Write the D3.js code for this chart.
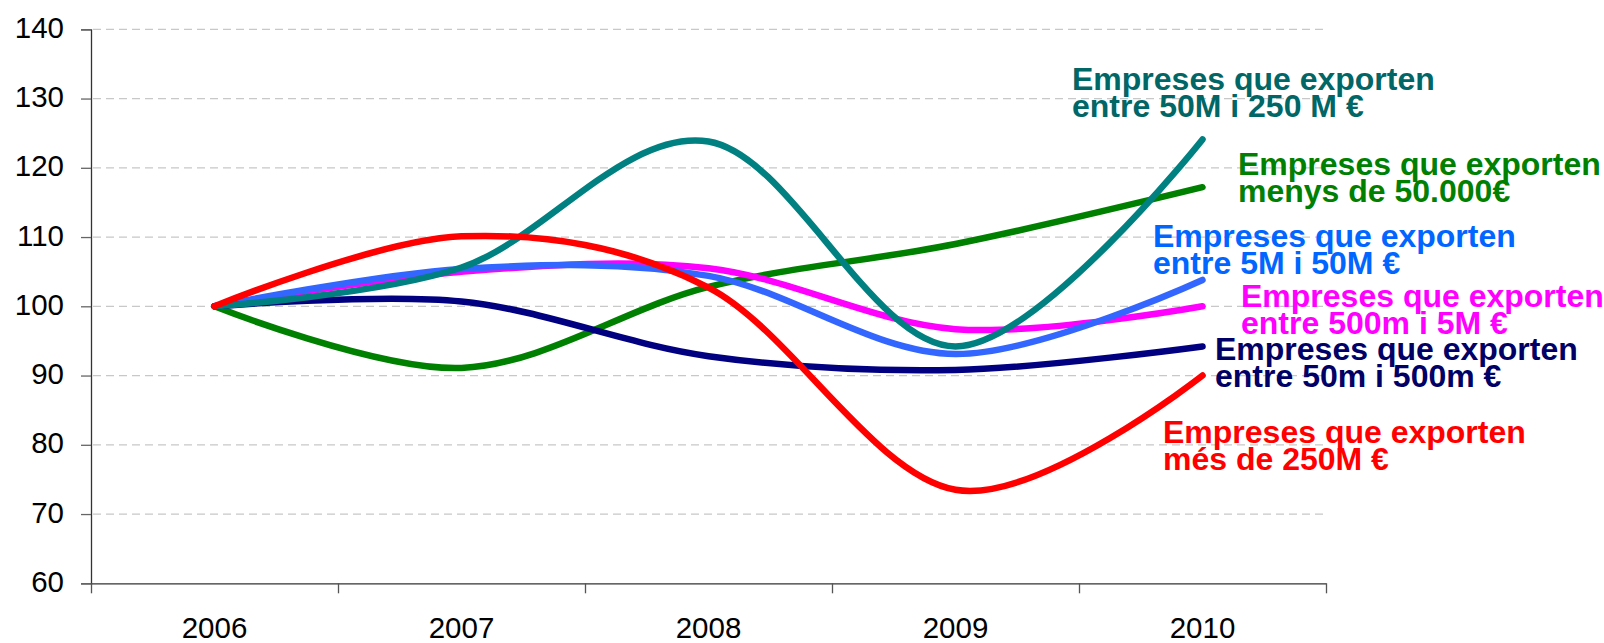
<!DOCTYPE html>
<html>
<head>
<meta charset="utf-8">
<script src="https://cdn.jsdelivr.net/npm/d3@7"></script>
<style>
  body { margin: 0; background: #fff; }
  svg text { font-family: "Liberation Sans", Arial, sans-serif; }
</style>
</head>
<body>
<svg id="chart" width="1604" height="643"></svg>
<script>
// data (index, 2006 = 100)
const years = ['2006', '2007', '2008', '2009', '2010'];
const yTicks = [60, 70, 80, 90, 100, 110, 120, 130, 140];

const menys50k = [100, 91.1, 102.8, 109.0, 117.2];
const entre500m5M = [100, 105.0, 105.5, 96.7, 100.0];
const entre5M50M = [100, 105.4, 104.4, 93.1, 103.8];
const entre50m500m = [100, 100.7, 92.8, 90.8, 94.2];
const entre50M250M = [100, 105.6, 123.8, 94.2, 124.1];
const mes250M = [100, 110.1, 102.7, 73.5, 90.0];

const labelsTeal = ['Empreses que exporten', 'entre 50M i 250 M €'];
const labelsGreen = ['Empreses que exporten', 'menys de 50.000€'];
const labelsBlue = ['Empreses que exporten', 'entre 5M i 50M €'];
const labelsMagenta = ['Empreses que exporten', 'entre 500m i 5M €'];
const labelsNavy = ['Empreses que exporten', 'entre 50m i 500m €'];
const labelsRed = ['Empreses que exporten', 'més de 250M €'];

// draw order: last one on top
const series = [
    { values: menys50k, line: '#008000', text: '#008000', label: labelsGreen, lx: 1238, ly: 175 },
    { values: entre500m5M, line: '#ff00ff', text: '#ff00ff', label: labelsMagenta, lx: 1241, ly: 307 },
    { values: entre5M50M, line: '#3366ff', text: '#0066ff', label: labelsBlue, lx: 1153, ly: 247 },
    { values: entre50m500m, line: '#000080', text: '#000066', label: labelsNavy, lx: 1215, ly: 360 },
    { values: entre50M250M, line: '#008080', text: '#006666', label: labelsTeal, lx: 1072, ly: 90 },
    { values: mes250M, line: '#ff0000', text: '#ff0000', label: labelsRed, lx: 1163, ly: 443 }
];

const plotLeft = 91, plotRight = 1326, plotTop = 29.3, plotBottom = 583.3;

const svg = d3.select('#chart');

const x = d3.scaleBand().domain(years).range([plotLeft, plotRight]);
const xEdge = d3.scaleLinear().domain([0, years.length]).range([plotLeft, plotRight]);
const y = d3.scaleLinear().domain([60, 140]).range([plotBottom, plotTop]);

// gridlines
svg.append('g')
    .selectAll('line')
    .data(yTicks.filter(d => d > 60))
    .enter()
    .append('line')
    .attr('x1', plotLeft + 2)
    .attr('x2', plotRight)
    .attr('y1', d => y(d))
    .attr('y2', d => y(d))
    .attr('stroke', '#c8c8c8')
    .attr('stroke-width', 1.3)
    .attr('stroke-dasharray', '8,5');

// y axis
const yAxis = svg.append('g')
    .attr('transform', `translate(${plotLeft},0)`)
    .call(d3.axisLeft(y).tickValues(yTicks).tickSize(10).tickPadding(17));
yAxis.select('.domain').attr('stroke', '#333').attr('stroke-width', 1.3);
yAxis.selectAll('.tick line').attr('stroke', '#666').attr('stroke-width', 1.3);
yAxis.selectAll('.tick text')
    .attr('font-size', 29.5)
    .attr('fill', '#000')
    .attr('dy', '0.27em')
    .attr('font-family', '"Liberation Sans", Arial, sans-serif');

// x axis: ticks on the category edges, labels in the middle
const xAxis = svg.append('g')
    .attr('transform', `translate(0,${plotBottom})`)
    .call(d3.axisBottom(xEdge).tickValues(d3.range(years.length + 1)).tickFormat('').tickSize(10).tickSizeOuter(0));
xAxis.select('.domain').attr('stroke', '#333').attr('stroke-width', 1.3);
xAxis.selectAll('.tick line').attr('stroke', '#555').attr('stroke-width', 1.3);

svg.append('g')
    .selectAll('text')
    .data(years)
    .enter()
    .append('text')
    .attr('x', d => x(d) + x.bandwidth() / 2)
    .attr('y', 637.7)
    .attr('text-anchor', 'middle')
    .attr('font-size', 29.5)
    .attr('fill', '#000')
    .text(d => d);

// lines, Excel-like smoothing
const line = d3.line()
    .x((d, i) => x(years[i]) + x.bandwidth() / 2)
    .y(d => y(d))
    .curve(d3.curveCardinal.tension(0));

svg.append('g')
    .selectAll('path')
    .data(series)
    .enter()
    .append('path')
    .attr('d', d => line(d.values))
    .attr('fill', 'none')
    .attr('stroke', d => d.line)
    .attr('stroke-width', 6.5)
    .attr('stroke-linecap', 'round')
    .attr('stroke-linejoin', 'round');

// end labels
series.forEach(s => {
    const t = svg.append('text')
        .attr('x', s.lx)
        .attr('y', s.ly)
        .attr('font-size', 32)
        .attr('font-weight', 'bold')
        .attr('fill', s.text);
    s.label.forEach((l, i) => {
        t.append('tspan')
            .attr('x', s.lx)
            .attr('dy', i === 0 ? 0 : 26.7)
            .text(l);
    });
});
</script>
</body>
</html>
